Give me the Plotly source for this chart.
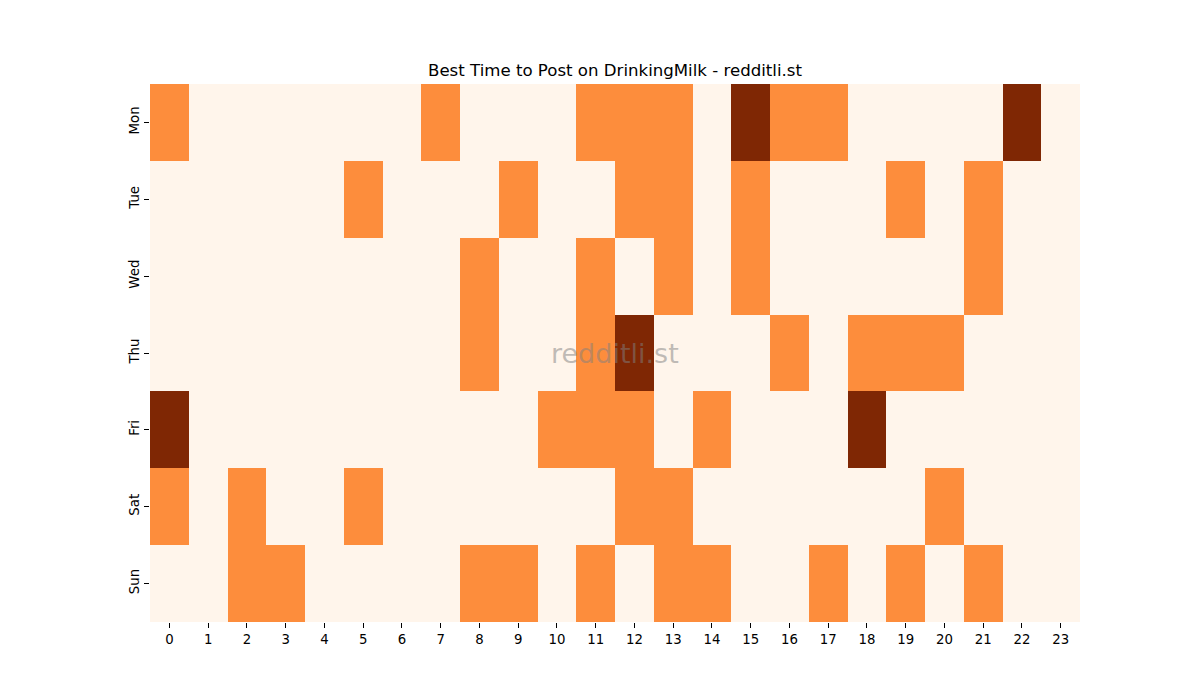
import plotly.graph_objects as go

days = ["Mon", "Tue", "Wed", "Thu", "Fri", "Sat", "Sun"]
hours = list(range(24))

mon = [1,0,0,0,0,0,0,1,0,0,0,1,1,1,0,2,1,1,0,0,0,0,2,0]
tue = [0,0,0,0,0,1,0,0,0,1,0,0,1,1,0,1,0,0,0,1,0,1,0,0]
wed = [0,0,0,0,0,0,0,0,1,0,0,1,0,1,0,1,0,0,0,0,0,1,0,0]
thu = [0,0,0,0,0,0,0,0,1,0,0,1,2,0,0,0,1,0,1,1,1,0,0,0]
fri = [2,0,0,0,0,0,0,0,0,0,1,1,1,0,1,0,0,0,2,0,0,0,0,0]
sat = [1,0,1,0,0,1,0,0,0,0,0,0,1,1,0,0,0,0,0,0,1,0,0,0]
sun = [0,0,1,1,0,0,0,0,1,1,0,1,0,1,1,0,0,1,0,1,0,1,0,0]

z = [mon, tue, wed, thu, fri, sat, sun]

fig = go.Figure(go.Heatmap(
    z=z, x=hours, y=days,
    colorscale=[[0, "#fff5eb"], [0.5, "#fd8d3c"], [1, "#7f2704"]],
    zmin=0, zmax=2, showscale=False, xgap=0, ygap=0,
))

fig.update_layout(
    width=1200, height=700,
    margin=dict(l=150, r=120, t=84, b=78),
    paper_bgcolor="white", plot_bgcolor="white",
    font=dict(family="DejaVu Sans", size=13.3, color="black"),
    title=dict(text="Best Time to Post on DrinkingMilk - redditli.st",
               x=0.5125, xanchor="center", y=1 - 70/700, yanchor="middle",
               font=dict(size=16.6, family="DejaVu Sans", color="black")),
    xaxis=dict(tickmode="array", tickvals=hours, ticktext=[str(h) for h in hours],
               ticks="outside", ticklen=5, tickcolor="black", showgrid=False,
               zeroline=False, showline=False, range=[-0.5, 23.5]),
    yaxis=dict(autorange="reversed", ticks="outside", ticklen=5, tickcolor="black",
               tickangle=-90, showgrid=False, zeroline=False, showline=False),
    annotations=[dict(text="redditli.st", x=0.5, y=0.5, xref="paper", yref="paper",
                      showarrow=False, font=dict(size=27, color="rgba(128,128,128,0.5)",
                                                 family="DejaVu Sans"))],
)

fig.write_html("out.html")
